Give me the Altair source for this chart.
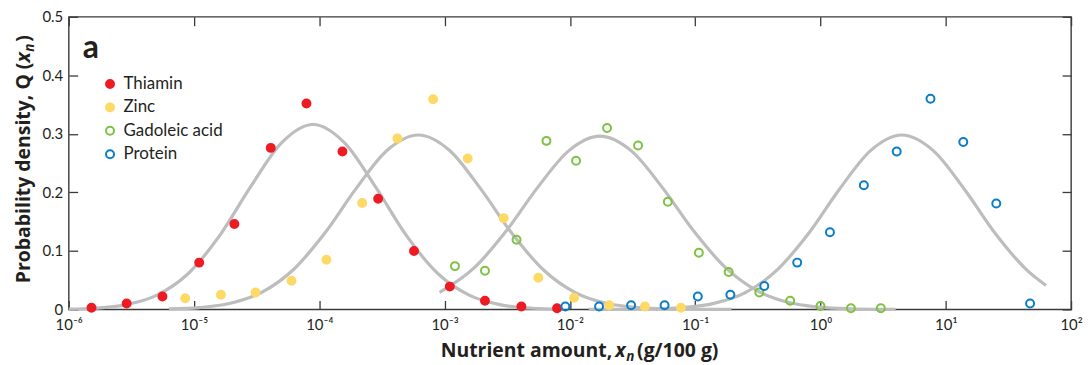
import altair as alt
import pandas as pd

# ---------------- data ----------------
series_names = ["Thiamin", "Zinc", "Gadoleic acid", "Protein"]
series_stroke = ["#ED1C24", "#FDD966", "#7DC242", "#0A7DC8"]
series_fill = ["#ED1C24", "#FDD966", "transparent", "transparent"]

thiamin_x = [1.52e-6, 2.9e-6, 5.6e-6, 1.1e-5, 2.1e-5, 4.1e-5, 7.9e-5, 1.53e-4, 2.95e-4, 5.7e-4, 1.1e-3, 2.1e-3, 4.1e-3, 7.9e-3]
thiamin_y = [0.003, 0.010, 0.022, 0.080, 0.146, 0.276, 0.352, 0.270, 0.189, 0.100, 0.039, 0.015, 0.005, 0.002]

zinc_x = [8.5e-6, 1.64e-5, 3.1e-5, 6.0e-5, 1.14e-4, 2.2e-4, 4.2e-4, 8.1e-4, 1.53e-3, 2.96e-3, 5.6e-3, 1.08e-2, 2.06e-2, 3.97e-2, 7.7e-2]
zinc_y = [0.019, 0.025, 0.029, 0.049, 0.085, 0.182, 0.292, 0.359, 0.258, 0.156, 0.054, 0.020, 0.007, 0.005, 0.003]

gadoleic_x = [1.21e-3, 2.1e-3, 3.75e-3, 6.5e-3, 1.12e-2, 1.98e-2, 3.5e-2, 6.05e-2, 0.107, 0.185, 0.325, 0.573, 1.0, 1.75, 3.03]
gadoleic_y = [0.074, 0.066, 0.119, 0.288, 0.254, 0.310, 0.280, 0.184, 0.097, 0.064, 0.029, 0.015, 0.006, 0.002, 0.002]

protein_x = [9.2e-3, 1.71e-2, 3.08e-2, 5.7e-2, 0.105, 0.191, 0.356, 0.652, 1.19, 2.22, 4.06, 7.55, 13.8, 25.3, 47.1]
protein_y = [0.005, 0.005, 0.007, 0.007, 0.022, 0.025, 0.040, 0.080, 0.132, 0.212, 0.270, 0.360, 0.286, 0.181, 0.010]

# fitted curves (decade exponent, density)
curve_thiamin_exp = [-6.0, -5.8, -5.55, -5.3, -5.05, -4.8, -4.55, -4.3, -4.05, -3.8, -3.55, -3.3, -3.05, -2.8, -2.55, -2.3, -2.05]
curve_thiamin_y = [0.0006, 0.0020, 0.0077, 0.0239, 0.0605, 0.1247, 0.209, 0.285, 0.316, 0.285, 0.209, 0.1247, 0.0605, 0.0239, 0.0077, 0.0020, 0.0004]

curve_zinc_exp = [-5.2, -4.96, -4.71, -4.46, -4.21, -3.96, -3.71, -3.46, -3.21, -2.96, -2.71, -2.46, -2.21, -1.96, -1.71, -1.46, -1.21, -0.96, -0.71]
curve_zinc_y = [0.0008, 0.0031, 0.0105, 0.0292, 0.0674, 0.1292, 0.2055, 0.2716, 0.298, 0.2716, 0.2055, 0.1292, 0.0674, 0.0292, 0.0105, 0.0031, 0.0008, 0.0002, 0.0000]

curve_gadoleic_exp = [-3.04, -2.76, -2.51, -2.26, -2.01, -1.76, -1.51, -1.26, -1.01, -0.76, -0.51, -0.26, -0.01, 0.24, 0.49, 0.6]
curve_gadoleic_y = [0.029, 0.0718, 0.1334, 0.2077, 0.2709, 0.296, 0.2709, 0.2077, 0.1334, 0.0718, 0.0324, 0.0122, 0.0039, 0.0010, 0.0002, 0.0001]

curve_protein_exp = [-1.85, -1.6, -1.35, -1.1, -0.85, -0.6, -0.35, -0.1, 0.15, 0.4, 0.65, 0.9, 1.15, 1.4, 1.65, 1.8]
curve_protein_y = [0.0000, 0.0002, 0.0007, 0.0030, 0.0103, 0.0287, 0.0667, 0.1284, 0.2050, 0.2714, 0.298, 0.2714, 0.2050, 0.1284, 0.0667, 0.041]

x_tick_values = [1e-6, 1e-5, 1e-4, 1e-3, 1e-2, 1e-1, 1e0, 1e1, 1e2]
x_tick_labels = ["10⁻⁶", "10⁻⁵", "10⁻⁴", "10⁻³", "10⁻²", "10⁻¹", "10⁰", "10¹", "10²"]
y_tick_values = [0, 0.1, 0.2, 0.3, 0.4, 0.5]

panel_label = ["a"]

# axis titles, split into pieces so that x is italic and n is a subscript
x_title_parts = ["Nutrient amount,", "x", "n", "(g/100 g)"]
y_title_parts = ["Probability density, Q (", "x", "n", ")"]

# ---------------- tables ----------------
pts = []
for name, xs, ys in [("Thiamin", thiamin_x, thiamin_y), ("Zinc", zinc_x, zinc_y),
                     ("Gadoleic acid", gadoleic_x, gadoleic_y), ("Protein", protein_x, protein_y)]:
    for xv, yv in zip(xs, ys):
        pts.append({"series": name, "x": xv, "y": yv})
points_df = pd.DataFrame(pts)

crv = []
for name, es, ys in [("Thiamin", curve_thiamin_exp, curve_thiamin_y), ("Zinc", curve_zinc_exp, curve_zinc_y),
                     ("Gadoleic acid", curve_gadoleic_exp, curve_gadoleic_y), ("Protein", curve_protein_exp, curve_protein_y)]:
    for i, (ev, yv) in enumerate(zip(es, ys)):
        crv.append({"curve": name, "order": i, "x": 10.0 ** ev, "y": yv})
curves_df = pd.DataFrame(crv)

# ---------------- chart ----------------
W, H = 1007, 294
FRAME = "#3a3a3a"
TEXT = "#231f20"
TITLE_FONT = "Open Sans"
TITLE_SIZE = 19.5

xscale = alt.Scale(type="log", domain=[1e-6, 1e2])
yscale = alt.Scale(domain=[0, 0.5], nice=False, zero=True)

label_expr = "[" + ",".join("'%s'" % l for l in x_tick_labels) + "][round(log(datum.value)/LN10)+6]"

tick_style = dict(domain=False, grid=False, tickSize=9, offset=-9, tickColor=FRAME, tickWidth=1.3)
label_style = dict(labelFont="Lato", labelFontSize=15, labelColor=TEXT)

x_bottom = alt.Axis(orient="bottom", values=x_tick_values, labelExpr=label_expr, labelPadding=8,
                    title=None, labelFlush=False, **tick_style, **label_style)
y_left = alt.Axis(orient="left", values=y_tick_values, format="~g", labelPadding=6,
                  title=None, **tick_style, **label_style)
x_top = alt.Axis(orient="top", values=x_tick_values, labels=False, title=None, **tick_style)
y_right = alt.Axis(orient="right", values=y_tick_values, labels=False, title=None, **tick_style)

curves = alt.Chart(curves_df).mark_line(color="#BDBDBD", strokeWidth=3.2, interpolate="monotone").encode(
    x=alt.X("x:Q", scale=xscale, axis=x_top),
    y=alt.Y("y:Q", scale=yscale, axis=y_right),
    detail="curve:N",
    order="order:Q",
)

points = alt.Chart(points_df).mark_point(filled=True, size=64, strokeWidth=2, opacity=1).encode(
    x=alt.X("x:Q", scale=xscale, axis=x_bottom),
    y=alt.Y("y:Q", scale=yscale, axis=y_left),
    fill=alt.Fill("series:N", scale=alt.Scale(domain=series_names, range=series_fill),
                  legend=alt.Legend(title=None, orient="none", legendX=33, legendY=59)),
    stroke=alt.Stroke("series:N", scale=alt.Scale(domain=series_names, range=series_stroke),
                      legend=alt.Legend(title=None, orient="none", legendX=33, legendY=59)),
)

label = alt.Chart(pd.DataFrame({"t": panel_label})).mark_text(
    font="Lato", fontWeight="bold", fontSize=32, color=TEXT, align="left", baseline="alphabetic"
).encode(text="t:N", x=alt.value(14), y=alt.value(41))


def piece(txt, x, y, align, size=TITLE_SIZE, italic=False, angle=0):
    kw = dict(font=TITLE_FONT, fontWeight="bold", fontSize=size, color=TEXT,
              align=align, baseline="alphabetic", angle=angle)
    if italic:
        kw["fontStyle"] = "italic"
    return alt.Chart(pd.DataFrame({"t": [txt]})).mark_text(**kw).encode(
        text="t:N", x=alt.value(x), y=alt.value(y))


# x-axis title (baseline below the plot)
xt = [
    piece(x_title_parts[0], 546, 342, "right"),
    piece(x_title_parts[1], 549, 342, "left", italic=True),
    piece(x_title_parts[2], 560, 346, "left", size=13.5, italic=True),
    piece(x_title_parts[3], 571, 342, "left"),
]
# y-axis title (rotated, reads bottom to top)
yt = [
    piece(y_title_parts[0], -39, 46, "right", angle=270),
    piece(y_title_parts[1], -39, 46, "left", italic=True, angle=270),
    piece(y_title_parts[2], -35, 35, "left", size=13.5, italic=True, angle=270),
    piece(y_title_parts[3], -39, 25, "left", angle=270),
]

chart = alt.layer(curves, points, label, *xt, *yt).properties(
    width=W, height=H,
    autosize=alt.AutoSizeParams(type="none"),
    padding={"left": 61, "top": 8, "right": 12, "bottom": 55},
).configure_view(
    stroke=FRAME, strokeWidth=1.4
).configure_legend(
    symbolType="circle", symbolSize=64, symbolStrokeWidth=2,
    labelFont="Lato", labelFontSize=17, labelColor=TEXT, labelOffset=5,
    rowPadding=5.5, padding=0, offset=0,
)

chart.save("out.html", embed_options={"renderer": "svg", "actions": False})
